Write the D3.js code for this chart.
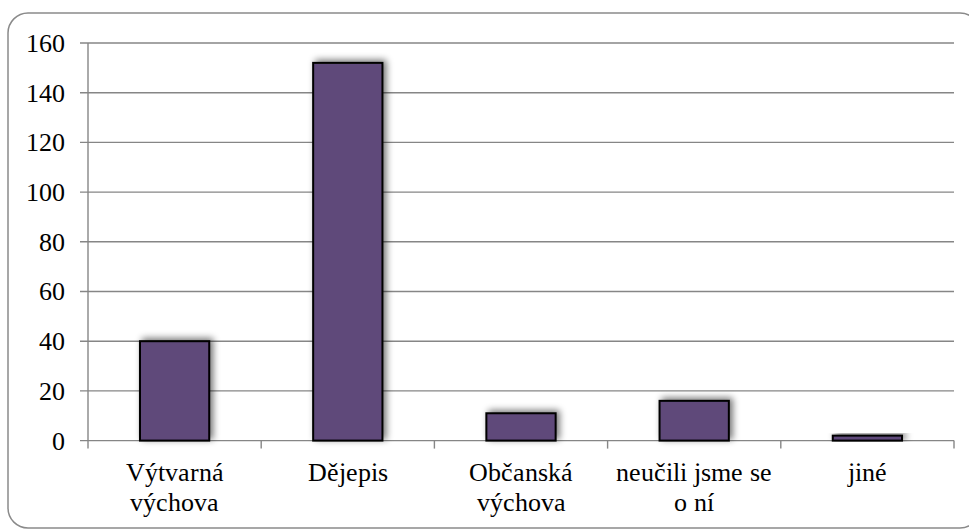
<!DOCTYPE html>
<html>
<head>
<meta charset="utf-8">
<script src="https://cdn.jsdelivr.net/npm/d3@7"></script>
<style>
  @font-face {
    font-family: "ChartSerif";
    src: local("Liberation Serif"), local("LiberationSerif"), local("LiberationSerif-Regular"), local("Times New Roman");
    font-display: swap;
  }
  body { margin: 0; background: #fff; }
</style>
</head>
<body>
<div id="chart"></div>
<script>
'use strict';

// Chart data
const categories = ["Výtvarná výchova", "Dějepis", "Občanská výchova", "neučili jsme se o ní", "jiné"];
// wrapped label lines, as in the original
const categoryLines = [["Výtvarná", "výchova"], ["Dějepis"], ["Občanská", "výchova"], ["neučili jsme se", "o ní"], ["jiné"]];
const values = [40, 152, 11, 16, 2];
const yTicks = [0, 20, 40, 60, 80, 100, 120, 140, 160];

const width = 969;
const height = 529;
const fontFamily = "ChartSerif, 'Liberation Serif', serif";

const svg = d3.select("#chart").append("svg")
    .attr("width", width)
    .attr("height", height);

// drop shadow used on bars
const defs = svg.append("defs");
const shadow = defs.append("filter")
    .attr("id", "barShadow")
    .attr("x", "-50%").attr("y", "-50%")
    .attr("width", "200%").attr("height", "200%");
shadow.append("feGaussianBlur").attr("in", "SourceAlpha").attr("stdDeviation", 3.5).attr("result", "blur");
shadow.append("feOffset").attr("in", "blur").attr("dx", 3).attr("dy", -2).attr("result", "off");
shadow.append("feComponentTransfer").attr("in", "off").attr("result", "soft")
  .append("feFuncA").attr("type", "linear").attr("slope", 0.55);
const merge = shadow.append("feMerge");
merge.append("feMergeNode").attr("in", "soft");
merge.append("feMergeNode").attr("in", "SourceGraphic");

// outer frame with rounded corners
svg.append("rect")
    .attr("x", 8)
    .attr("y", 13)
    .attr("width", 972)
    .attr("height", 515)
    .attr("rx", 20)
    .attr("fill", "#fff")
    .attr("stroke", "#8a8a8a")
    .attr("stroke-width", 1.5);

const plot = {left: 88, right: 954, top: 43, bottom: 440.6};

const x = d3.scaleBand()
    .domain(categories)
    .range([plot.left, plot.right])
    .paddingInner(0.6)
    .paddingOuter(0.3);

const y = d3.scaleLinear()
    .domain([0, 160])
    .range([plot.bottom, plot.top]);

// horizontal gridlines + y ticks
svg.append("g")
    .selectAll("line")
    .data(yTicks)
    .join("line")
      .attr("x1", plot.left - 8)
      .attr("x2", plot.right)
      .attr("y1", d => y(d))
      .attr("y2", d => y(d))
      .attr("stroke", "#868686")
      .attr("stroke-width", 1.4);

// y axis line
svg.append("line")
    .attr("x1", plot.left).attr("x2", plot.left)
    .attr("y1", plot.top).attr("y2", plot.bottom)
    .attr("stroke", "#868686")
    .attr("stroke-width", 1.4);

svg.append("g")
    .selectAll("text")
    .data(yTicks)
    .join("text")
      .attr("x", plot.left - 23)
      .attr("y", d => y(d))
      .attr("dy", "0.35em")
      .attr("text-anchor", "end")
      .style("font-family", fontFamily)
      .style("font-size", "25.5px")
      .attr("fill", "#000")
      .text(d => d);

// category boundary ticks
const step = x.step();
svg.append("g")
    .selectAll("line")
    .data(d3.range(categories.length + 1))
    .join("line")
      .attr("x1", i => plot.left + i * step)
      .attr("x2", i => plot.left + i * step)
      .attr("y1", plot.bottom)
      .attr("y2", plot.bottom + 8)
      .attr("stroke", "#868686")
      .attr("stroke-width", 1.4);

// bars
svg.append("g")
    .selectAll("rect")
    .data(values)
    .join("rect")
      .attr("x", (d, i) => x(categories[i]))
      .attr("y", d => y(d))
      .attr("width", x.bandwidth())
      .attr("height", d => y(0) - y(d))
      .attr("fill", "#5f497a")
      .attr("stroke", "#000")
      .attr("stroke-width", 2)
      .attr("filter", "url(#barShadow)");

// category labels
const labels = svg.append("g")
    .selectAll("text")
    .data(categoryLines)
    .join("text")
      .attr("text-anchor", "middle")
      .style("font-family", fontFamily)
      .style("font-size", "25.5px")
      .attr("fill", "#000")
      .attr("transform", (d, i) => `translate(${x(categories[i]) + x.bandwidth() / 2},481)`);

labels.selectAll("tspan")
    .data(d => d)
    .join("tspan")
      .attr("x", 0)
      .attr("y", (d, i) => i * 30)
      .text(d => d);
</script>
</body>
</html>
